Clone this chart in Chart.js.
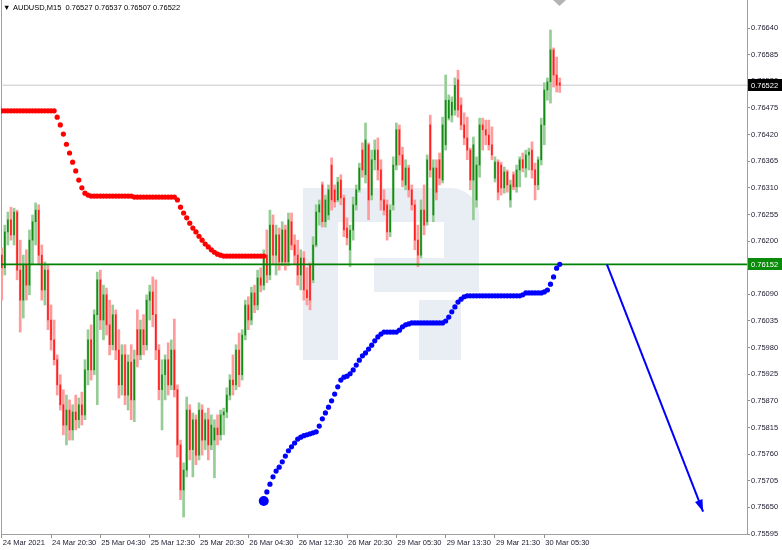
<!DOCTYPE html>
<html><head><meta charset="utf-8">
<script src="https://cdn.jsdelivr.net/npm/chart.js@4.4.1/dist/chart.umd.min.js"></script>
<style>html,body{margin:0;padding:0;background:#fff;overflow:hidden}#wrap{width:782px;height:550px;position:relative}</style>
</head><body><div id="wrap"><canvas id="c" width="782" height="550"></canvas></div>
<script>
const symbolTitle = 'AUDUSD,M15';
const lastBarOHLC = ['0.76527', '0.76537', '0.76507', '0.76522'];
const xTickLabels = ['24 Mar 2021', '24 Mar 20:30', '25 Mar 04:30', '25 Mar 12:30', '25 Mar 20:30', '26 Mar 04:30',
  '26 Mar 12:30', '26 Mar 20:30', '29 Mar 05:30', '29 Mar 13:30', '29 Mar 21:30', '30 Mar 05:30'];
const barsPerTickLabel = 16;
const yTickValues = [0.76640, 0.76585, 0.76530, 0.76475, 0.76420, 0.76365, 0.76310, 0.76255, 0.76200, 0.76145,
  0.76090, 0.76035, 0.75980, 0.75925, 0.75870, 0.75815, 0.75760, 0.75705, 0.75650, 0.75595];

const opens = [0.76171,0.76145,0.76219,0.76244,0.76213,0.76260,0.76140,0.76078,0.76151,0.76109,
0.76202,0.76240,0.76264,0.76171,0.76099,0.76140,0.76037,0.75996,0.75955,0.75903,
0.75862,0.75820,0.75851,0.75810,0.75847,0.75831,0.75862,0.75841,0.75934,0.75996,
0.75934,0.76048,0.76120,0.76037,0.76089,0.76027,0.75986,0.76048,0.75975,0.75903,
0.75965,0.75882,0.75950,0.75872,0.76017,0.75965,0.76017,0.75986,0.76078,0.76095,
0.76048,0.75975,0.75893,0.75924,0.75955,0.75903,0.75975,0.75893,0.75779,0.75686,
0.75727,0.75851,0.75769,0.75831,0.75758,0.75851,0.75789,0.75831,0.75779,0.75789,
0.75814,0.75800,0.75841,0.75847,0.75882,0.75913,0.75903,0.75975,0.75924,0.76006,
0.76068,0.76037,0.76093,0.76068,0.76124,0.76109,0.76171,0.76130,0.76233,0.76171,
0.76213,0.76157,0.76223,0.76157,0.76240,0.76192,0.76171,0.76130,0.76165,0.76099,
0.76151,0.76120,0.76192,0.76260,0.76316,0.76240,0.76254,0.76357,0.76306,0.76285,
0.76326,0.76289,0.76227,0.76182,0.76223,0.76275,0.76306,0.76388,0.76337,0.76399,
0.76295,0.76368,0.76388,0.76347,0.76285,0.76275,0.76219,0.76275,0.76357,0.76430,
0.76378,0.76316,0.76351,0.76306,0.76275,0.76202,0.76171,0.76264,0.76240,0.76440,
0.76254,0.76351,0.76368,0.76326,0.76399,0.76454,0.76460,0.76471,0.76533,0.76481,
0.76440,0.76413,0.76388,0.76326,0.76285,0.76357,0.76440,0.76430,0.76419,0.76399,
0.76330,0.76363,0.76357,0.76310,0.76343,0.76285,0.76337,0.76312,0.76347,0.76368,
0.76351,0.76378,0.76388,0.76347,0.76316,0.76368,0.76440,0.76512,0.76529,0.76595,
0.76543,0.76527];
const highs = [0.76186,0.76233,0.76260,0.76270,0.76268,0.76264,0.76202,0.76171,0.76182,0.76223,
0.76254,0.76279,0.76275,0.76192,0.76157,0.76151,0.76068,0.76037,0.75965,0.75924,
0.75893,0.75882,0.75872,0.75862,0.75882,0.75876,0.75888,0.75955,0.76017,0.76027,
0.76058,0.76136,0.76140,0.76109,0.76103,0.76078,0.76068,0.76058,0.76017,0.75986,
0.75986,0.75965,0.75986,0.75975,0.76058,0.76037,0.76048,0.76089,0.76109,0.76126,
0.76120,0.75986,0.75955,0.75965,0.75990,0.75996,0.76039,0.75903,0.75789,0.75742,
0.75878,0.75862,0.75845,0.75841,0.75866,0.75862,0.75845,0.75855,0.75841,0.75831,
0.75841,0.75851,0.75855,0.75897,0.75924,0.75965,0.75986,0.76010,0.76017,0.76078,
0.76085,0.76105,0.76109,0.76140,0.76145,0.76182,0.76223,0.76264,0.76254,0.76233,
0.76227,0.76240,0.76233,0.76258,0.76258,0.76213,0.76202,0.76182,0.76178,0.76145,
0.76155,0.76209,0.76275,0.76285,0.76322,0.76295,0.76316,0.76372,0.76316,0.76332,
0.76337,0.76295,0.76248,0.76233,0.76291,0.76316,0.76361,0.76403,0.76444,0.76403,
0.76388,0.76409,0.76413,0.76368,0.76306,0.76285,0.76275,0.76374,0.76444,0.76440,
0.76394,0.76368,0.76357,0.76316,0.76285,0.76233,0.76285,0.76316,0.76378,0.76460,
0.76368,0.76368,0.76382,0.76456,0.76543,0.76502,0.76498,0.76537,0.76553,0.76496,
0.76465,0.76456,0.76392,0.76415,0.76374,0.76454,0.76454,0.76450,0.76450,0.76436,
0.76374,0.76368,0.76363,0.76353,0.76347,0.76326,0.76343,0.76357,0.76374,0.76382,
0.76388,0.76392,0.76405,0.76361,0.76374,0.76454,0.76527,0.76537,0.76636,0.76599,
0.76580,0.76537];
const lows = [0.76078,0.76130,0.76192,0.76202,0.76192,0.76120,0.76012,0.76041,0.76078,0.76089,
0.76151,0.76192,0.76151,0.76078,0.76068,0.76017,0.75975,0.75944,0.75882,0.75851,
0.75800,0.75779,0.75789,0.75789,0.75810,0.75814,0.75820,0.75831,0.75903,0.75913,
0.75924,0.75862,0.76017,0.75996,0.76006,0.75965,0.75975,0.75955,0.75876,0.75882,
0.75862,0.75851,0.75831,0.75827,0.75940,0.75955,0.75965,0.75975,0.76037,0.76023,
0.75955,0.75872,0.75810,0.75872,0.75882,0.75893,0.75878,0.75754,0.75666,0.75630,
0.75713,0.75748,0.75713,0.75738,0.75748,0.75758,0.75769,0.75748,0.75769,0.75711,
0.75779,0.75789,0.75800,0.75835,0.75872,0.75882,0.75893,0.75899,0.75913,0.75996,
0.76017,0.76027,0.76052,0.76058,0.76095,0.76099,0.76114,0.76120,0.76151,0.76130,
0.76140,0.76149,0.76140,0.76149,0.76182,0.76151,0.76109,0.76099,0.76078,0.76068,
0.76058,0.76114,0.76188,0.76233,0.76229,0.76229,0.76244,0.76264,0.76270,0.76281,
0.76275,0.76209,0.76192,0.76147,0.76202,0.76264,0.76301,0.76332,0.76320,0.76244,
0.76285,0.76347,0.76326,0.76264,0.76254,0.76202,0.76209,0.76264,0.76347,0.76357,
0.76312,0.76306,0.76291,0.76264,0.76182,0.76147,0.76165,0.76213,0.76233,0.76332,
0.76240,0.76285,0.76316,0.76320,0.76388,0.76450,0.76446,0.76460,0.76456,0.76430,
0.76399,0.76368,0.76306,0.76244,0.76270,0.76332,0.76388,0.76399,0.76388,0.76368,
0.76322,0.76285,0.76295,0.76299,0.76301,0.76270,0.76306,0.76301,0.76312,0.76343,
0.76332,0.76347,0.76330,0.76285,0.76306,0.76357,0.76399,0.76491,0.76485,0.76518,
0.76508,0.76507];
const closes = [0.76145,0.76219,0.76244,0.76213,0.76260,0.76140,0.76078,0.76151,0.76109,0.76202,
0.76240,0.76264,0.76171,0.76099,0.76140,0.76037,0.75996,0.75955,0.75903,0.75862,
0.75820,0.75851,0.75810,0.75847,0.75831,0.75862,0.75841,0.75934,0.75996,0.75934,
0.76048,0.76120,0.76037,0.76089,0.76027,0.75986,0.76048,0.75975,0.75903,0.75965,
0.75882,0.75950,0.75872,0.75955,0.75965,0.76017,0.75986,0.76078,0.76095,0.76048,
0.75975,0.75893,0.75924,0.75955,0.75903,0.75975,0.75893,0.75779,0.75686,0.75727,
0.75851,0.75769,0.75831,0.75758,0.75851,0.75789,0.75831,0.75779,0.75820,0.75814,
0.75800,0.75841,0.75847,0.75882,0.75913,0.75903,0.75975,0.75924,0.76006,0.76068,
0.76037,0.76093,0.76068,0.76124,0.76109,0.76171,0.76130,0.76233,0.76171,0.76213,
0.76157,0.76223,0.76157,0.76244,0.76192,0.76171,0.76130,0.76165,0.76099,0.76083,
0.76078,0.76192,0.76260,0.76275,0.76240,0.76285,0.76306,0.76285,0.76281,0.76322,
0.76289,0.76223,0.76207,0.76223,0.76275,0.76306,0.76351,0.76347,0.76409,0.76285,
0.76368,0.76388,0.76347,0.76285,0.76264,0.76219,0.76264,0.76357,0.76430,0.76378,
0.76326,0.76351,0.76306,0.76275,0.76202,0.76171,0.76264,0.76233,0.76368,0.76347,
0.76351,0.76301,0.76330,0.76440,0.76491,0.76491,0.76487,0.76522,0.76471,0.76440,
0.76413,0.76388,0.76326,0.76399,0.76357,0.76440,0.76430,0.76419,0.76399,0.76378,
0.76363,0.76301,0.76310,0.76343,0.76316,0.76316,0.76312,0.76347,0.76368,0.76351,
0.76378,0.76384,0.76347,0.76316,0.76368,0.76440,0.76512,0.76529,0.76595,0.76543,
0.76522,0.76522];

// red dotted indicator, starts at bar 0
const redIndicator = [0.76469,0.76469,0.76469,0.76469,0.76469,0.76469,0.76469,0.76469,0.76469,0.76469,
0.76469,0.76469,0.76469,0.76469,0.76469,0.76469,0.76469,0.76469,0.76456,0.76440,
0.76421,0.76400,0.76382,0.76363,0.76345,0.76326,0.76310,0.76299,0.76295,0.76293,
0.76293,0.76293,0.76293,0.76293,0.76293,0.76293,0.76293,0.76293,0.76293,0.76293,
0.76293,0.76293,0.76293,0.76291,0.76291,0.76291,0.76291,0.76291,0.76291,0.76291,
0.76291,0.76291,0.76291,0.76291,0.76291,0.76291,0.76291,0.76285,0.76270,0.76258,
0.76248,0.76237,0.76227,0.76219,0.76210,0.76202,0.76194,0.76188,0.76182,0.76177,
0.76173,0.76171,0.76169,0.76169,0.76169,0.76169,0.76169,0.76169,0.76169,0.76169,
0.76169,0.76169,0.76169,0.76169,0.76169,0.76169];
// blue dotted indicator, starts at bar 85
const blueStartBar = 85;
const blueIndicator = [0.75663,0.75682,0.75698,0.75713,0.75725,0.75733,0.75744,0.75756,0.75767,0.75775,
0.75783,0.75791,0.75795,0.75798,0.75800,0.75802,0.75804,0.75806,0.75818,0.75833,
0.75845,0.75857,0.75870,0.75884,0.75899,0.75913,0.75919,0.75921,0.75926,0.75934,
0.75944,0.75954,0.75963,0.75969,0.75977,0.75985,0.75994,0.76002,0.76008,0.76012,
0.76012,0.76012,0.76012,0.76012,0.76016,0.76023,0.76027,0.76029,0.76031,0.76031,
0.76031,0.76031,0.76031,0.76031,0.76031,0.76031,0.76031,0.76031,0.76031,0.76035,
0.76043,0.76054,0.76064,0.76074,0.76080,0.76085,0.76087,0.76087,0.76087,0.76087,
0.76087,0.76087,0.76087,0.76087,0.76087,0.76087,0.76087,0.76087,0.76087,0.76087,
0.76087,0.76087,0.76087,0.76087,0.76089,0.76093,0.76093,0.76093,0.76093,0.76093,
0.76093,0.76095,0.76099,0.76111,0.76126,0.76144,0.76152];
const supportLevel = 0.76152;
const currentPrice = 0.76522;
const arrowBars = [196.3, 227.5];
const arrowPrices = [0.76152, 0.75641];

const X_MIN = -0.23, X_MAX = 241.74;
const FONT = "'Liberation Sans', Arial, sans-serif";
const GREEN = 'rgb(20,140,20)', GREEN_PALE = 'rgb(150,205,150)';
const RED = 'rgb(255,30,30)', RED_PALE = 'rgb(255,155,155)';

const isBull = opens.map((o, i) => closes[i] >= o);

const decor = {
  id: 'decor',
  beforeDatasetsDraw(chart) {
    const {ctx, chartArea: a} = chart;
    ctx.save();
    ctx.fillStyle = 'rgb(233,237,244)';
    const L = a.left, T = a.top;
    ctx.beginPath();
    ctx.moveTo(L + 302, T + 188);
    ctx.lineTo(L + 450, T + 188);
    ctx.arcTo(L + 478, T + 188, L + 478, T + 216, 28);
    ctx.lineTo(L + 478, T + 292);
    ctx.lineTo(L + 373, T + 292);
    ctx.lineTo(L + 373, T + 258);
    ctx.lineTo(L + 443, T + 258);
    ctx.lineTo(L + 443, T + 222);
    ctx.lineTo(L + 337, T + 222);
    ctx.lineTo(L + 337, T + 360);
    ctx.lineTo(L + 302, T + 360);
    ctx.closePath();
    ctx.fill();
    ctx.fillRect(L + 418, T + 300, 42, 60);
    ctx.strokeStyle = '#a0a0a0';
    ctx.lineWidth = 1;
    ctx.beginPath();
    ctx.moveTo(a.left + 0.5, a.top);
    ctx.lineTo(a.left + 0.5, a.bottom);
    ctx.stroke();
    ctx.restore();
  },
  afterDatasetsDraw(chart) {
    const meta = chart.getDatasetMeta(chart.data.datasets.findIndex(d => d.label === 'arrow'));
    const p0 = meta.data[0], p1 = meta.data[1];
    const ang = Math.atan2(p1.y - p0.y, p1.x - p0.x);
    const ctx = chart.ctx, len = 12, w = 4;
    const bx = p1.x - len * Math.cos(ang), by = p1.y - len * Math.sin(ang);
    ctx.save();
    ctx.fillStyle = '#0000ff';
    ctx.beginPath();
    ctx.moveTo(p1.x, p1.y);
    ctx.lineTo(bx - w * Math.sin(ang), by + w * Math.cos(ang));
    ctx.lineTo(bx + w * Math.sin(ang), by - w * Math.cos(ang));
    ctx.closePath();
    ctx.fill();
    ctx.restore();
  },
  afterDraw(chart) {
    const {ctx, chartArea: a, scales} = chart;
    ctx.save();
    const box = (val, bg) => {
      const y = Math.round(scales.y.getPixelForValue(val));
      ctx.fillStyle = bg;
      ctx.fillRect(a.right + 1, y - 6, 34, 12);
      ctx.fillStyle = '#fff';
      ctx.font = '7.5px ' + FONT;
      ctx.textBaseline = 'middle';
      ctx.textAlign = 'left';
      ctx.fillText(val.toFixed(5), a.right + 4, y + 0.5);
    };
    box(currentPrice, '#000');
    box(supportLevel, 'rgb(10,140,10)');
    ctx.fillStyle = '#000';
    ctx.font = '7.5px ' + FONT;
    ctx.textBaseline = 'middle';
    ctx.fillText('\u25BC', 3, 8);
    ctx.fillText(symbolTitle + '  ' + lastBarOHLC.join(' '), 13, 8);
    ctx.fillStyle = '#b4b4b4';
    ctx.beginPath();
    ctx.moveTo(553, 0); ctx.lineTo(566, 0); ctx.lineTo(559.5, 6); ctx.closePath();
    ctx.fill();
    ctx.restore();
  }
};

const bars = opens.map((_, i) => i);
new Chart(document.getElementById('c'), {
  type: 'bar',
  data: {
    datasets: [
      { label: 'arrow', type: 'line', order: 0,
        data: arrowBars.map((x, k) => ({x, y: arrowPrices[k]})),
        borderColor: '#0000ff', borderWidth: 2, pointRadius: 0 },
      { label: 'red', type: 'line', order: 1, showLine: false,
        data: redIndicator.map((v, i) => ({x: i, y: v})),
        pointRadius: 2.6, pointBackgroundColor: '#ff0000', pointBorderWidth: 0 },
      { label: 'blue', type: 'line', order: 1, showLine: false,
        data: blueIndicator.map((v, k) => ({x: blueStartBar + k, y: v})),
        pointRadius: blueIndicator.map((_, k) => k === 0 ? 5 : 2.6),
        pointBackgroundColor: '#0000ff', pointBorderWidth: 0 },
      { label: 'support', type: 'line', order: 2,
        data: [{x: X_MIN, y: supportLevel}, {x: X_MAX, y: supportLevel}],
        borderColor: 'rgb(0,128,0)', borderWidth: 1.6, pointRadius: 0 },
      { label: 'body', order: 3, grouped: false,
        data: bars.map(i => ({x: i, y: [opens[i], closes[i]]})),
        backgroundColor: bars.map(i => isBull[i] ? GREEN : RED),
        barThickness: 1, borderWidth: 0 },
      { label: 'range', order: 4, grouped: false,
        data: bars.map(i => ({x: i, y: [lows[i], highs[i]]})),
        backgroundColor: bars.map(i => isBull[i] ? GREEN_PALE : RED_PALE),
        barThickness: 2, borderWidth: 0 },
      { label: 'price', type: 'line', order: 6,
        data: [{x: X_MIN, y: currentPrice}, {x: X_MAX, y: currentPrice}],
        borderColor: 'rgb(200,200,200)', borderWidth: 1, pointRadius: 0 }
    ]
  },
  options: {
    responsive: false, animation: false, devicePixelRatio: 1, events: [],
    layout: { autoPadding: false, padding: {left: 1, right: 0, top: 0, bottom: 0} },
    plugins: { legend: {display: false}, tooltip: {enabled: false}, title: {display: false} },
    scales: {
      x: {
        type: 'linear', position: 'bottom', min: X_MIN, max: X_MAX, offset: false,
        grid: { drawOnChartArea: false, drawTicks: true, tickLength: 4, color: '#909090', offset: false },
        border: { display: true, color: '#a0a0a0', width: 1 },
        afterBuildTicks: s => { s.ticks = xTickLabels.map((_, k) => ({value: k * barsPerTickLabel})); },
        afterFit: s => { s.height = 16; s.paddingLeft = 0; s.paddingRight = 0; },
        ticks: { autoSkip: false, maxRotation: 0, align: 'start', labelOffset: 1, padding: 0,
          font: {family: FONT, size: 7.5}, color: '#1a1a2e',
          callback: v => xTickLabels[Math.round(v / barsPerTickLabel)] }
      },
      y: {
        type: 'linear', position: 'right', min: 0.75595, max: 0.76698, beginAtZero: false,
        grid: { drawOnChartArea: false, drawTicks: true, tickLength: 3, color: '#909090' },
        border: { display: true, color: '#a0a0a0', width: 1 },
        afterBuildTicks: s => { s.ticks = yTickValues.map(v => ({value: v})); },
        afterFit: s => { s.width = 35; s.paddingTop = 0; s.paddingBottom = 0; },
        ticks: { autoSkip: false, padding: 1, font: {family: FONT, size: 7.5}, color: '#1a1a2e',
          callback: v => Number(v).toFixed(5) }
      }
    }
  },
  plugins: [decor]
});
</script></body></html>
